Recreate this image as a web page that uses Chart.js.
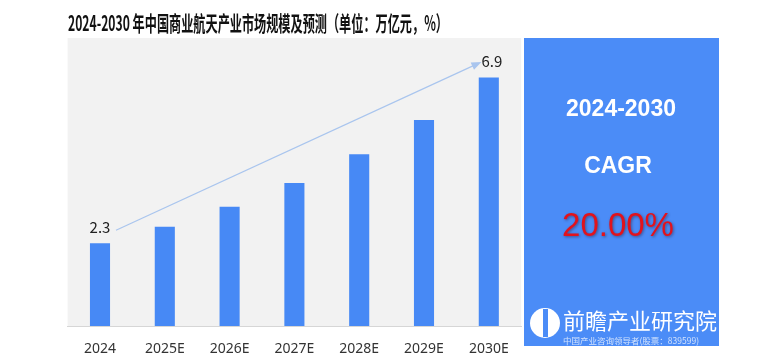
<!DOCTYPE html>
<html>
<head>
<meta charset="utf-8">
<script src="https://cdn.jsdelivr.net/npm/chart.js@4"></script>
<style>
  html, body { margin: 0; padding: 0; background: #ffffff; overflow: hidden; }
  canvas { display: block; }
</style>
</head>
<body>
<canvas id="marketChart" width="760" height="363"></canvas>
<script>
/* ===== Data ===== */
const years = ['2024', '2025E', '2026E', '2027E', '2028E', '2029E', '2030E'];
const marketSize = [2.3, 2.76, 3.31, 3.97, 4.77, 5.72, 6.9];   // 万亿元
const labelledBars = [0, 6];                                     // only first and last carry values
const titleText = '2024-2030 年中国商业航天产业市场规模及预测（单位：万亿元，%）';
const cagrLines = ['2024-2030', 'CAGR', '20.00%'];

const CJK = '"Noto Sans CJK SC", "Noto Sans", sans-serif';

/* ===== Plugins ===== */
const plotBackground = {
    id: 'plotBackground',
    beforeDraw(chart){
        const {ctx, chartArea:a} = chart;
        ctx.save();
        ctx.fillStyle = '#f2f2f2';
        ctx.fillRect(a.left, a.top, a.right - a.left, a.bottom - a.top);
        ctx.restore();
    }
};

const titlePlugin = {
    id: 'titlePlugin',
    afterDraw(chart){
        const ctx = chart.ctx;
        ctx.save();
        ctx.font = 'bold 21px ' + CJK;
        ctx.fillStyle = '#111';
        ctx.textBaseline = 'middle';
        ctx.textAlign = 'center';
        const w = ctx.measureText(titleText).width;
        const sx = 380 / w;
        ctx.translate(258, 23);
        ctx.scale(sx, 1);
        ctx.fillText(titleText, 0, 0);
        ctx.restore();
    }
};

const valueLabels = {
    id: 'valueLabels',
    afterDatasetsDraw(chart){
        const ctx = chart.ctx;
        const bars = chart.getDatasetMeta(0).data;
        ctx.save();

        // growth arrow from first to last bar
        const first = bars[0], last = bars[bars.length - 1];
        const x1 = first.x + 16, y1 = first.y - 13;
        const x2 = last.x - 11, y2 = last.y - 14;
        ctx.strokeStyle = '#a9c5ee';
        ctx.fillStyle = '#a9c5ee';
        ctx.lineWidth = 1.2;
        ctx.beginPath();
        ctx.moveTo(x1, y1);
        ctx.lineTo(x2, y2);
        ctx.stroke();
        const ang = Math.atan2(y2 - y1, x2 - x1);
        ctx.beginPath();
        ctx.moveTo(x2 + 4 * Math.cos(ang), y2 + 4 * Math.sin(ang));
        ctx.lineTo(x2 - 6 * Math.cos(ang) - 4 * Math.sin(ang), y2 - 6 * Math.sin(ang) + 4 * Math.cos(ang));
        ctx.lineTo(x2 - 6 * Math.cos(ang) + 4 * Math.sin(ang), y2 - 6 * Math.sin(ang) - 4 * Math.cos(ang));
        ctx.closePath();
        ctx.fill();

        ctx.font = '15px ' + CJK;
        ctx.fillStyle = '#222';
        ctx.textAlign = 'center';
        ctx.textBaseline = 'middle';
        labelledBars.forEach(i => {
            const b = bars[i];
            ctx.fillText(String(marketSize[i]), b.x + (i === 0 ? 0 : 3), b.y - 16);
        });
        ctx.restore();
    }
};

const cagrPanel = {
    id: 'cagrPanel',
    afterDraw(chart){
        const ctx = chart.ctx;
        const left = 524, top = 38, right = 719, bottom = 346;
        const cx = 621;
        ctx.save();
        ctx.fillStyle = '#4b8cf7';
        ctx.fillRect(left, top, right - left, bottom - top);

        ctx.textAlign = 'center';
        ctx.textBaseline = 'middle';
        ctx.fillStyle = '#ffffff';
        ctx.font = 'bold 23px "Liberation Sans", Arial, sans-serif';
        ctx.fillText(cagrLines[0], cx, 110);
        ctx.fillText(cagrLines[1], cx - 3, 167);

        ctx.font = '33px "Liberation Sans", Arial, sans-serif';
        ctx.shadowColor = 'rgba(60,0,0,0.45)';
        ctx.shadowBlur = 3;
        ctx.shadowOffsetX = 1;
        ctx.shadowOffsetY = 1;
        ctx.fillStyle = '#e3121c';
        ctx.fillText(cagrLines[2], cx - 3, 227);
        ctx.shadowColor = 'transparent';

        // brand mark at the bottom of the panel
        ctx.fillStyle = '#ffffff';
        ctx.beginPath();
        ctx.arc(545, 323, 15, 0, Math.PI * 2);
        ctx.fill();
        ctx.fillStyle = '#4b8cf7';
        ctx.fillRect(543, 309, 5, 28);
        ctx.fillStyle = '#ffffff';
        ctx.textAlign = 'left';
        ctx.font = '22px ' + CJK;
        ctx.fillText('前瞻产业研究院', 563, 321);
        ctx.font = '8.5px ' + CJK;
        ctx.fillStyle = 'rgba(255,255,255,0.75)';
        ctx.fillText('中国产业咨询领导者(股票：839599)', 563, 341);
        ctx.restore();
    }
};

/* ===== Chart ===== */
const marketChart = new Chart(document.getElementById('marketChart'), {
    type: 'bar',
    data: {
        labels: years,
        datasets: [{
            label: '市场规模',
            data: marketSize,
            backgroundColor: '#4789f5',
            barPercentage: 0.31,
            categoryPercentage: 1.0
        }]
    },
    options: {
        responsive: false,
        animation: false,
        layout: { padding: { left: 67.6, right: 238.8, top: 38, bottom: 0 } },
        plugins: {
            legend: { display: false },
            title: { display: false },
            tooltip: { enabled: false }
        },
        scales: {
            x: {
                afterFit(scale){ scale.height = 37; },
                grid: { display: false, drawTicks: false },
                border: { display: true, color: '#d6d6d6', width: 1 },
                ticks: { color: '#333', padding: 14.6, font: { size: 14, family: '"Noto Sans", sans-serif' } }
            },
            y: {
                display: false,
                min: 0,
                max: 8
            }
        }
    },
    plugins: [plotBackground, valueLabels, cagrPanel, titlePlugin]
});
</script>
</body>
</html>
